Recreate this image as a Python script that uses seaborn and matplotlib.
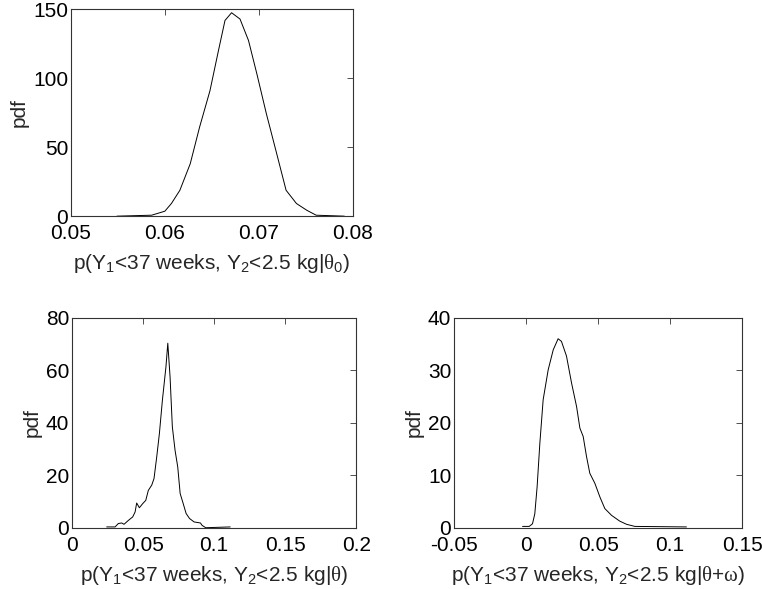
import numpy as np
import pandas as pd
import seaborn as sns
import matplotlib
matplotlib.use("Agg")
from matplotlib import pyplot as plt

# posterior density curves
theta0_x = [0.0549, 0.0586, 0.0600, 0.0607, 0.0616, 0.0627, 0.0637, 0.0648, 0.0657, 0.0664,
            0.0671, 0.0680, 0.0689, 0.0698, 0.0708, 0.0719, 0.0729, 0.0740, 0.0751, 0.0761, 0.0791]
theta0_pdf = [0.0, 0.7, 3.6, 9.2, 18.8, 38, 64.7, 91, 120, 142,
              147.6, 143, 127.5, 103, 74.4, 45.4, 18.8, 9.2, 4.3, 0.7, 0.0]

theta_x = [0.0244, 0.0303, 0.0326, 0.0350, 0.0366, 0.0397, 0.0427, 0.0444, 0.0455, 0.0474,
           0.0498, 0.0519, 0.0537, 0.0561, 0.0577, 0.0596, 0.0615, 0.0636, 0.0661, 0.0674,
           0.0690, 0.0706, 0.0725, 0.0744, 0.0761, 0.0779, 0.0803, 0.0827, 0.0859, 0.0904,
           0.0915, 0.0941, 0.1113]
theta_pdf = [0.4, 0.4, 1.7, 1.9, 1.4, 2.9, 4.2, 6.1, 9.5, 7.7,
             9.3, 10.5, 14.3, 16.3, 18.8, 27, 36, 48.6, 61.3, 70.3,
             57.5, 38.5, 29.6, 23.2, 13.1, 9.9, 5.5, 3.6, 2.3, 1.9,
             1.0, 0.1, 0.4]

thetaw_x = [-0.0025, 0.0021, 0.0044, 0.0060, 0.0076, 0.0095, 0.0118, 0.0153, 0.0188, 0.0222,
            0.0245, 0.0280, 0.0315, 0.0350, 0.0373, 0.0396, 0.0419, 0.0442, 0.0477, 0.0512,
            0.0546, 0.0593, 0.0650, 0.0697, 0.0755, 0.1113]
thetaw_pdf = [0.3, 0.3, 0.8, 2.7, 7.8, 16.1, 24.4, 30.1, 33.9, 36.0,
              35.5, 32.7, 27.6, 23.1, 19.0, 17.4, 13.6, 10.4, 8.5, 5.9,
              3.7, 2.4, 1.3, 0.7, 0.3, 0.2]

sns.set_style("white")
plt.rcParams['font.family'] = ['Liberation Sans', 'DejaVu Sans']
plt.rcParams['mathtext.fontset'] = 'custom'
plt.rcParams['mathtext.rm'] = 'Liberation Sans'
plt.rcParams['mathtext.it'] = 'Liberation Serif'
plt.rcParams['mathtext.bf'] = 'Liberation Sans:bold'

fig = plt.figure(figsize=(7.62, 5.89), dpi=100)
ax1 = fig.add_axes([0.093, 0.633, 0.370, 0.351])
ax2 = fig.add_axes([0.0945, 0.1036, 0.373, 0.357])
ax3 = fig.add_axes([0.596, 0.1036, 0.378, 0.357])

panels = [
    (ax1, theta0_x, theta0_pdf, (0.05, 0.08), [0.05, 0.06, 0.07, 0.08], ['0.05', '0.06', '0.07', '0.08'],
     (0, 150), [0, 50, 100, 150], r'p(Y$_1$<37 weeks, Y$_2$<2.5 kg|$\theta_0$)'),
    (ax2, theta_x, theta_pdf, (0, 0.2), [0, 0.05, 0.1, 0.15, 0.2], ['0', '0.05', '0.1', '0.15', '0.2'],
     (0, 80), [0, 20, 40, 60, 80], r'p(Y$_1$<37 weeks, Y$_2$<2.5 kg|$\theta$)'),
    (ax3, thetaw_x, thetaw_pdf, (-0.05, 0.15), [-0.05, 0, 0.05, 0.1, 0.15], ['-0.05', '0', '0.05', '0.1', '0.15'],
     (0, 40), [0, 10, 20, 30, 40], r'p(Y$_1$<37 weeks, Y$_2$<2.5 kg|$\theta$+$\omega$)'),
]

for ax, xs, ys, xlim, xt, xtl, ylim, yt, xlabel in panels:
    df = pd.DataFrame({"x": xs, "pdf": ys})
    sns.lineplot(data=df, x="x", y="pdf", ax=ax, color="black", linewidth=0.7, sort=False)
    ax.set_xlim(*xlim)
    ax.set_ylim(*ylim)
    ax.set_xticks(xt)
    ax.set_xticklabels(xtl)
    ax.set_yticks(yt)
    ax.set_xlabel(xlabel, fontsize=15, labelpad=6)
    ax.set_ylabel("pdf", fontsize=15, labelpad=3)
    ax.tick_params(direction="in", length=4, width=0.6, top=True, right=True,
                   labelsize=15, colors="#333333", labelcolor="black")
    ax.tick_params(axis="x", pad=6)
    ax.tick_params(axis="y", pad=2)
    for s in ax.spines.values():
        s.set_visible(True)
        s.set_color("#333333")
        s.set_linewidth(0.8)

fig.savefig("out.png", dpi=100)
